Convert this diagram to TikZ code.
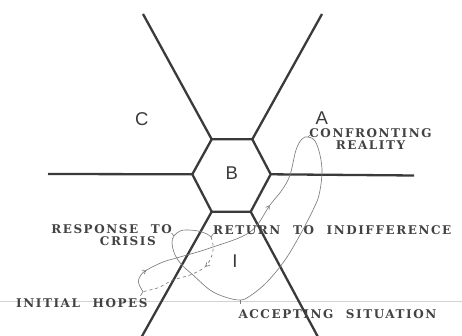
\documentclass[tikz,border=0pt]{standalone}
\usepackage{fontspec}
\setmainfont{DejaVu Serif}
\newfontfamily\regionfont{Liberation Sans}
\newfontfamily\stagefont{DejaVu Serif}[LetterSpace=13,WordSpace=2.2]
\usetikzlibrary{arrows.meta,decorations.markings}
\definecolor{ink}{HTML}{3A3A3A}
\definecolor{pencil}{HTML}{7C7C7C}
\definecolor{stamp}{HTML}{424242}
\definecolor{crease}{HTML}{D2D2D2}

\begin{document}
\begin{tikzpicture}[
    x=1pt,
    y=1pt,
    >={Straight Barb[length=3.5pt,width=4.5pt]},
    wall/.style={line width=2.3pt,draw=ink,line join=round},
    region/.style={font=\regionfont\fontsize{18.5}{18.5}\selectfont,text=ink,inner sep=0pt},
    stage/.style={font=\stagefont\fontsize{12}{12.5}\selectfont\bfseries,
        text=stamp,inner sep=0pt},
    track/.style={draw=pencil,line width=0.65pt},
    tick/.style={draw=pencil,line width=0.65pt}
]
    \clip (0,0) rectangle (462,336);

    % fold in the paper
    \draw[crease,line width=0.6pt] (0,34.3) -- (462,34.3);

    % central cell and walls
    \coordinate (h1) at (211.7,196.7);
    \coordinate (h2) at (252.3,196.7);
    \coordinate (h3) at (270.7,161.7);
    \coordinate (h4) at (250.7,124.3);
    \coordinate (h5) at (211.7,124.3);
    \coordinate (h6) at (192.3,161.7);
    \draw[wall] (h1) -- (h2) -- (h3) -- (h4) -- (h5) -- (h6) -- cycle;
    \foreach \c/\x/\y in {h1/143/322, h2/322/322, h3/414/160.5,
                          h4/318.5/-2, h5/141/-2, h6/48/162}
        \draw[wall] (\c) -- (\x,\y);

    \node[region] (regC) at (141.7,216.7) {C};
    \node[region] (regA) at (321.7,217.7) {A};
    \node[region] (regB) at (231.7,162.7) {B};
    \node[region] (regI) at (235,75) {I};

    % stages on the path
    \coordinate (hopes) at (143,44.3);
    \coordinate (reality) at (308,199);
    \coordinate (accept) at (240,36);
    \coordinate (crisis) at (174,100);
    \coordinate (indiff) at (211,99);

    \draw[track,postaction={decorate},
        decoration={markings,
            mark=at position 26pt with {\arrow{>}},
            mark=at position 170pt with {\arrow{>}}}]
        plot[smooth,tension=0.6] coordinates {
            (hopes) (138.3,54) (141,61) (146.7,66) (163,74) (180,79)
            (210,88) (250,104) (270,131) (282,146) (290,161) (296,186)
            (302,197) (reality) (315,195) (320,181) (322,163) (319,141)
            (313,126) (300,101) (285,76) (267,54) (250,40) (accept)
            (225,39) (210,46) (193,61) (182,71) (175,81) (172,93)
            (crisis) (180,105) (187,106) (198,105) (207,102) (indiff)};
    \draw[track,dashed,postaction={decorate},
        decoration={markings,mark=at position 32pt with {\arrow{>}}}]
        plot[smooth,tension=0.6] coordinates {
            (indiff) (213,91) (212,81) (205,69) (190,61) (173,56)
            (160,49) (150,46) (hopes)};

    % labels
    \node[stage,align=center] (realityL) at (370.5,197) {CONFRONTING\\REALITY};
    \node[stage,align=right,anchor=east] (crisisL) at (172,101)
        {RESPONSE TO\\CRISIS\hspace*{16pt}};
    \node[stage,anchor=west] (indiffL) at (213,106) {RETURN TO INDIFFERENCE};
    \node[stage,anchor=west] (hopesL) at (16,32.7) {INITIAL HOPES};
    \node[stage,anchor=west] (acceptL) at (238.3,22) {ACCEPTING SITUATION};

    \draw[tick] (hopes) -- ++(-2.5,-4);
    \draw[tick] (reality) -- ++(2.5,2.5);
    \draw[tick] (accept) -- ++(0,-4);
    \draw[tick] (crisis) -- ++(-2.5,3);
    \draw[tick] (indiff) -- ++(2.5,3.5);
\end{tikzpicture}
\end{document}
